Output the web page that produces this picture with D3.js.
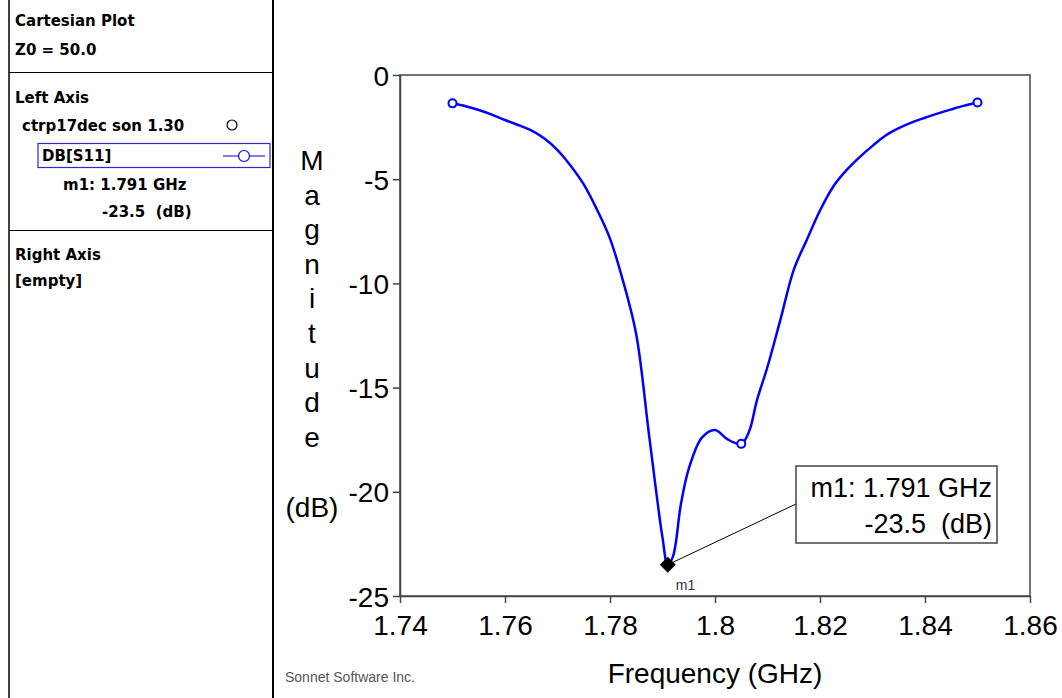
<!DOCTYPE html>
<html>
<head>
<meta charset="utf-8">
<script src="https://cdn.jsdelivr.net/npm/d3@7"></script>
<style>
  body { margin: 0; background: #fff; }
  svg { display: block; }
</style>
</head>
<body>
<script>
// S11 sweep
const freqs = [1.750, 1.7525, 1.755, 1.7575, 1.760, 1.7625, 1.765, 1.7675, 1.770, 1.7725,
  1.775, 1.7775, 1.780, 1.7825, 1.785, 1.7875, 1.790, 1.791, 1.792, 1.7935,
  1.795, 1.7975, 1.800, 1.8025, 1.805, 1.8065, 1.808, 1.810, 1.8125, 1.815,
  1.8175, 1.820, 1.8225, 1.825, 1.8275, 1.830, 1.8325, 1.835, 1.8375, 1.840,
  1.8425, 1.845, 1.8475, 1.850];
const s11 = [-1.36, -1.5, -1.68, -1.9, -2.16, -2.4, -2.66, -3.05, -3.6, -4.35,
  -5.25, -6.45, -7.85, -9.9, -12.45, -17.4, -22.2, -23.5, -23.1, -20.6,
  -18.9, -17.4, -17.03, -17.5, -17.7, -17.1, -15.6, -14.0, -11.7, -9.35,
  -7.9, -6.5, -5.36, -4.58, -3.95, -3.4, -2.9, -2.55, -2.27, -2.05,
  -1.84, -1.65, -1.47, -1.32];
const symbolFreqs = [1.75, 1.805, 1.85];
const markerFreq = 1.791;
const markerVal = -23.5;
const xTicks = [1.74, 1.76, 1.78, 1.80, 1.82, 1.84, 1.86];
const yTicks = [0, -5, -10, -15, -20, -25];
const yTitle = ['M', 'a', 'g', 'n', 'i', 't', 'u', 'd', 'e'];

const W = 1062, H = 698;
const plot = { left: 400, top: 75, right: 1030, bottom: 596 };
const blue = '#0000ff';
const panelFont = 'DejaVu Sans, sans-serif';
const plotFont = 'Liberation Sans, Arial, sans-serif';

const svg = d3.select('body')
  .append('svg')
  .attr('width', W)
  .attr('height', H);

svg.append('rect')
  .attr('width', W)
  .attr('height', H)
  .style('fill', '#fff');

// left info panel
const panel = svg.append('g');

panel.append('line')
  .attr('x1', 9).attr('x2', 9)
  .attr('y1', 0).attr('y2', H)
  .style('stroke', '#000').style('stroke-width', 1.5);
panel.append('line')
  .attr('x1', 273).attr('x2', 273)
  .attr('y1', 0).attr('y2', H)
  .style('stroke', '#000').style('stroke-width', 2);
[72, 230].forEach(y => {
  panel.append('line')
    .attr('x1', 9).attr('x2', 273)
    .attr('y1', y + 0.5).attr('y2', y + 0.5)
    .style('stroke', '#000').style('stroke-width', 1);
});

const panelText = [
  { t: 'Cartesian Plot', x: 15, y: 26 },
  { t: 'Z0 = 50.0', x: 15, y: 55 },
  { t: 'Left Axis', x: 15, y: 103 },
  { t: 'ctrp17dec son 1.30', x: 22, y: 131 },
  { t: 'DB[S11]', x: 42, y: 161 },
  { t: 'm1: 1.791 GHz', x: 63, y: 190 },
  { t: '-23.5  (dB)', x: 102, y: 217 },
  { t: 'Right Axis', x: 15, y: 260 },
  { t: '[empty]', x: 15, y: 286 }
];
panel.selectAll('text.info')
  .data(panelText)
  .join('text')
  .attr('class', 'info')
  .attr('x', d => d.x)
  .attr('y', d => d.y)
  .attr('xml:space', 'preserve')
  .style('font-family', panelFont)
  .style('font-weight', 'bold')
  .style('font-size', '15px')
  .style('fill', '#000')
  .text(d => d.t);

panel.append('circle')
  .attr('cx', 232).attr('cy', 125).attr('r', 5)
  .style('fill', 'none').style('stroke', '#000').style('stroke-width', 1.2);

panel.append('rect')
  .attr('x', 38).attr('y', 143.5)
  .attr('width', 232).attr('height', 24)
  .style('fill', 'none').style('stroke', '#2a2ad0').style('stroke-width', 1.2);
panel.append('line')
  .attr('x1', 223).attr('x2', 265)
  .attr('y1', 156).attr('y2', 156)
  .style('stroke', blue).style('stroke-width', 1.2);
panel.append('circle')
  .attr('cx', 244).attr('cy', 156).attr('r', 5.5)
  .style('fill', '#fff').style('stroke', blue).style('stroke-width', 1.2);

// plot scales
const x = d3.scaleLinear().domain([1.74, 1.86]).range([plot.left, plot.right]);
const y = d3.scaleLinear().domain([-25, 0]).range([plot.bottom, plot.top]);

svg.append('rect')
  .attr('x', plot.left).attr('y', plot.top)
  .attr('width', plot.right - plot.left)
  .attr('height', plot.bottom - plot.top)
  .style('fill', 'none').style('stroke', '#444').style('stroke-width', 1.5);

const xAxis = svg.append('g')
  .attr('transform', `translate(0,${plot.bottom})`)
  .call(d3.axisBottom(x)
    .tickValues(xTicks)
    .tickFormat(d => String(+d.toFixed(2)))
    .tickSize(7)
    .tickSizeOuter(0)
    .tickPadding(12));

const yAxis = svg.append('g')
  .attr('transform', `translate(${plot.left},0)`)
  .call(d3.axisLeft(y)
    .tickValues(yTicks)
    .tickFormat(d => String(d))
    .tickSize(7)
    .tickSizeOuter(0)
    .tickPadding(4));

[xAxis, yAxis].forEach(a => {
  a.select('.domain').style('stroke', '#444').style('stroke-width', 1.5);
  a.selectAll('.tick line').style('stroke', '#444').style('stroke-width', 1.5);
  a.selectAll('.tick text')
    .style('font-family', plotFont)
    .style('font-size', '28px')
    .style('fill', '#000');
});
yAxis.selectAll('.tick text').attr('dy', '0.36em');

// axis titles
svg.append('text')
  .attr('x', (plot.left + plot.right) / 2)
  .attr('y', 683)
  .attr('text-anchor', 'middle')
  .style('font-family', plotFont)
  .style('font-size', '28px')
  .text('Frequency (GHz)');

svg.selectAll('text.ytitle')
  .data(yTitle)
  .join('text')
  .attr('class', 'ytitle')
  .attr('x', 312)
  .attr('y', (d, i) => 170 + i * 34.6)
  .attr('text-anchor', 'middle')
  .style('font-family', plotFont)
  .style('font-size', '28px')
  .text(d => d);

svg.append('text')
  .attr('x', 312)
  .attr('y', 517)
  .attr('text-anchor', 'middle')
  .style('font-family', plotFont)
  .style('font-size', '28px')
  .text('(dB)');

svg.append('text')
  .attr('x', 285)
  .attr('y', 682)
  .style('font-family', plotFont)
  .style('font-size', '14px')
  .style('fill', '#555')
  .text('Sonnet Software Inc.');

// trace
const data = freqs.map((f, i) => ({ f: f, v: s11[i] }));

svg.append('path')
  .datum(data)
  .attr('d', d3.line()
    .x(d => x(d.f))
    .y(d => y(d.v))
    .curve(d3.curveCatmullRom.alpha(0.5)))
  .style('fill', 'none')
  .style('stroke', blue)
  .style('stroke-width', 2.5);

svg.selectAll('circle.sym')
  .data(symbolFreqs.map(f => data.find(d => Math.abs(d.f - f) < 1e-6)))
  .join('circle')
  .attr('class', 'sym')
  .attr('cx', d => x(d.f))
  .attr('cy', d => y(d.v))
  .attr('r', 4)
  .style('fill', '#fff')
  .style('stroke', blue)
  .style('stroke-width', 2);

// marker m1 with its label box
const mx = x(markerFreq), my = y(markerVal);
const box = { x: 796, y: 466, w: 201, h: 77 };

svg.append('line')
  .attr('x1', mx).attr('y1', my)
  .attr('x2', box.x).attr('y2', 504)
  .style('stroke', '#000').style('stroke-width', 1);

svg.append('path')
  .attr('d', `M${mx},${my - 8}L${mx + 8},${my}L${mx},${my + 8}L${mx - 8},${my}Z`)
  .style('fill', '#000');

svg.append('text')
  .attr('x', mx + 8).attr('y', my + 25)
  .style('font-family', plotFont)
  .style('font-size', '14px')
  .style('fill', '#333')
  .text('m1');

svg.append('rect')
  .attr('x', box.x).attr('y', box.y)
  .attr('width', box.w).attr('height', box.h)
  .style('fill', '#fff').style('stroke', '#444').style('stroke-width', 1.5);

[
  { t: 'm1: 1.791 GHz', y: 497 },
  { t: '-23.5  (dB)', y: 533 }
].forEach(l => {
  svg.append('text')
    .attr('x', box.x + box.w - 5)
    .attr('y', l.y)
    .attr('text-anchor', 'end')
    .attr('xml:space', 'preserve')
    .style('font-family', plotFont)
    .style('font-size', '27px')
    .text(l.t);
});
</script>
</body>
</html>
